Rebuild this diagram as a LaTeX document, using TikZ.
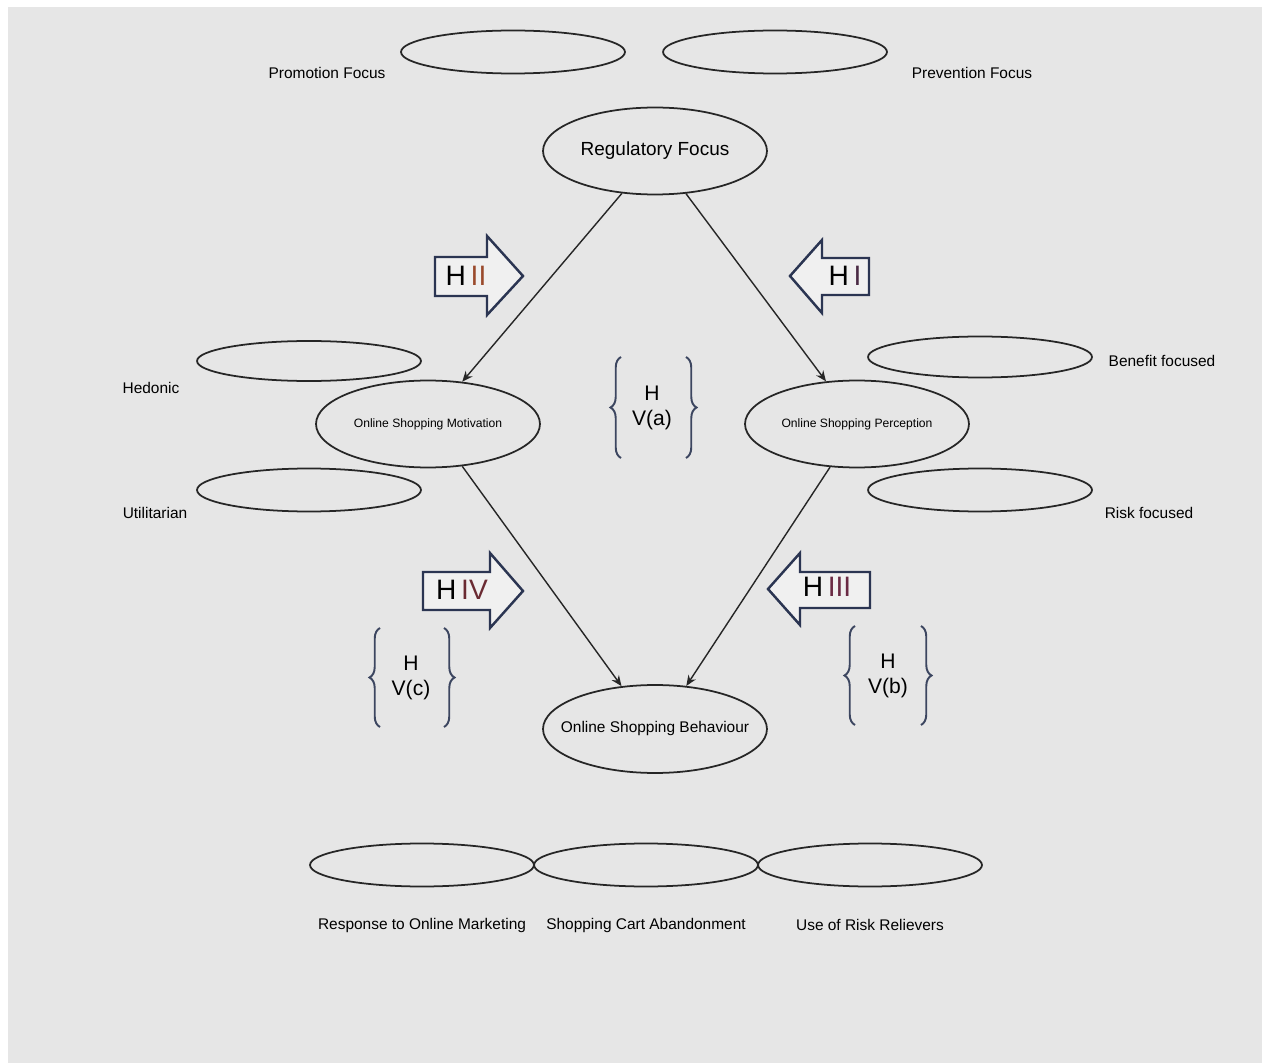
\documentclass[tikz,border=0pt]{standalone}
\usepackage{fontspec}
\setmainfont{Liberation Sans}
\usetikzlibrary{shapes.geometric,arrows.meta,decorations.pathreplacing}
\definecolor{panel}{HTML}{E6E6E6}
\definecolor{bluebox}{HTML}{2B3552}
\definecolor{braceclr}{HTML}{3C4660}
\definecolor{numII}{HTML}{9A4A2C}
\definecolor{numI}{HTML}{4A2A44}
\definecolor{numIV}{HTML}{6A2A32}
\definecolor{numIII}{HTML}{6A2A44}
\begin{document}
\begin{tikzpicture}[x=0.02cm,y=-0.02cm,
  oval/.style={ellipse,draw=black!85,line width=1pt,inner sep=0pt,minimum width=4.48cm},
  flat/.style={oval,minimum height=0.86cm},
  tall/.style={oval,minimum height=1.74cm},
  lbl/.style={inner sep=0pt,font=\fontsize{8.8}{10}\selectfont},
  tiny/.style={inner sep=0pt,font=\fontsize{6.9}{8}\selectfont},
  link/.style={draw=black!85,line width=0.8pt,-{Stealth[length=6pt,width=5pt]}},
  blockarrow/.style={draw=bluebox,line width=1.4pt,fill=panel!60!white,line join=miter},
  hyp/.style={inner sep=0pt,font=\fontsize{16}{18}\selectfont},
  brc/.style={draw=braceclr,line width=1.1pt,decorate,decoration={brace,amplitude=6pt}},
  pair/.style={inner sep=0pt,align=center,font=\fontsize{12}{14.5}\selectfont}]

% canvas
\useasboundingbox (0,0) rectangle (1272,1064);
\fill[white] (0,0) rectangle (1272,1064);
\fill[panel] (8,7) rectangle (1262,1063);

% regulatory focus and its two facets
\node[flat] (promo) at (513,52) {};
\node[flat] (prev) at (775,52) {};
\node[lbl] (promoL) at (327,73) {Promotion Focus};
\node[lbl] (prevL) at (972,73) {Prevention Focus};
\node[tall] (reg) at (655,151) {};
\node[inner sep=0pt,font=\fontsize{10.8}{12}\selectfont] (regL) at (reg.center) {Regulatory Focus};

% motivation side
\node[flat,minimum height=0.8cm] (hed) at (309,361) {};
\node[flat] (util) at (309,490) {};
\node[lbl] (hedL) at (151,388) {Hedonic};
\node[lbl] (utilL) at (155,513) {Utilitarian};
\node[tall] (mot) at (428,424) {};
\node[tiny] (motL) at (mot.center) {Online Shopping Motivation};

% perception side
\node[flat,minimum height=0.82cm] (ben) at (980,357) {};
\node[flat] (risk) at (980,490) {};
\node[lbl] (benL) at (1162,361) {Benefit focused};
\node[lbl] (riskL) at (1149,513) {Risk focused};
\node[tall] (per) at (857,424) {};
\node[tiny] (perL) at (per.center) {Online Shopping Perception};

% behaviour and its outcomes
\node[tall,minimum height=1.76cm] (beh) at (655,729) {};
\node[inner sep=0pt,font=\fontsize{8.8}{10}\selectfont] (behL) at (beh.center) {Online Shopping Behaviour};
\node[flat] (resp) at (422,865) {};
\node[flat] (cart) at (646,865) {};
\node[flat] (relv) at (870,865) {};
\node[lbl] (respL) at (422,925) {Response to Online Marketing};
\node[lbl] (cartL) at (646,925) {Shopping Cart Abandonment};
\node[lbl] (relvL) at (870,925) {Use of Risk Relievers};

% causal paths
\draw[link] (reg.232) -- (mot.51);
\draw[link] (reg.306) -- (per.126);
\draw[link] (mot.309) -- (beh.128);
\draw[link] (per.238) -- (beh.54);

% hypothesis block arrows
\draw[blockarrow] (435,257) -- (487,257) -- (487,236) -- (523,276) -- (487,315) -- (487,296) -- (435,296) -- cycle;
\node[hyp] (h2) at (466,276) {H\,\textcolor{numII}{II}};
\draw[blockarrow] (869,258) -- (822,258) -- (822,240) -- (790,276) -- (822,313) -- (822,295) -- (869,295) -- cycle;
\node[hyp] (h1) at (845,276) {H\,\textcolor{numI}{I}};
\draw[blockarrow] (423,572) -- (490,572) -- (490,553) -- (523,591) -- (490,628) -- (490,610) -- (423,610) -- cycle;
\node[hyp] (h4) at (462,590) {H\,\textcolor{numIV}{IV}};
\draw[blockarrow] (870,572) -- (800,572) -- (800,553) -- (768,589) -- (800,625) -- (800,608) -- (870,608) -- cycle;
\node[hyp] (h3) at (827,587) {H\,\textcolor{numIII}{III}};

% moderation hypotheses in braces
\node[pair] (h5a) at (652,408) {H\\V(a)};
\draw[brc] (621,458) -- (621,357);
\draw[brc] (686,357) -- (686,458);
\node[pair] (h5c) at (411,678) {H\\V(c)};
\draw[brc] (380,727) -- (380,628);
\draw[brc] (444,628) -- (444,727);
\node[pair] (h5b) at (888,676) {H\\V(b)};
\draw[brc] (855,725) -- (855,626);
\draw[brc] (921,626) -- (921,725);
\end{tikzpicture}
\end{document}
